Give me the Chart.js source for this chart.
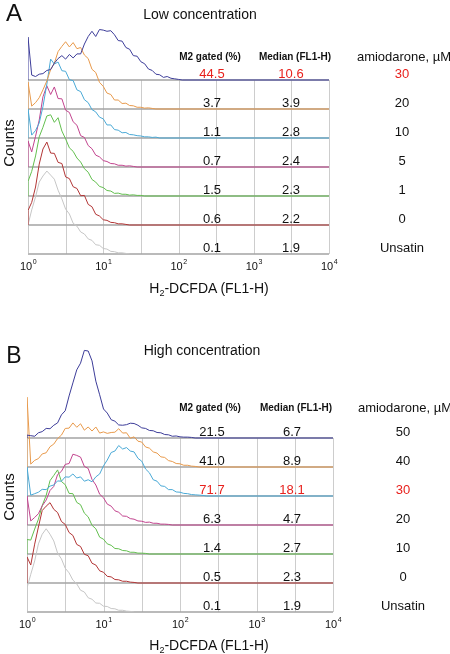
<!DOCTYPE html>
<html>
<head>
<meta charset="utf-8">
<script src="https://cdn.jsdelivr.net/npm/chart.js@4.4.1/dist/chart.umd.min.js"></script>
<style>
  body { margin: 0; background: #fff; font-family: "Liberation Sans", Arial, sans-serif; }
  #page { position: relative; width: 450px; height: 654px; overflow: hidden; background: #fff; }
  canvas { position: absolute; left: 0; }
  .lbl { position: absolute; transform: translate(-50%, -50%); white-space: nowrap; color: #111; line-height: 1; }
  .rot { transform: translate(-50%, -50%) rotate(-90deg); }
  sub { font-size: 9px; line-height: 0; vertical-align: -3px; }
</style>
</head>
<body>
<div id="page">
  <canvas id="chartA" width="450" height="300" style="top:0"></canvas>
  <canvas id="chartB" width="450" height="334" style="top:320px"></canvas>

  <div class="lbl" style="left:14px;top:13px;font-size:24px">A</div>
  <div class="lbl" style="left:200px;top:14px;font-size:14px">Low concentration</div>
  <div class="lbl rot" style="left:8px;top:143px;font-size:15px">Counts</div>
  <div class="lbl" style="left:209px;top:288px;font-size:14px">H<sub>2</sub>-DCFDA (FL1-H)</div>

  <div class="lbl" style="left:14px;top:355px;font-size:23px">B</div>
  <div class="lbl" style="left:202px;top:350px;font-size:14px">High concentration</div>
  <div class="lbl rot" style="left:8px;top:497px;font-size:15px">Counts</div>
  <div class="lbl" style="left:209px;top:645px;font-size:14px">H<sub>2</sub>-DCFDA (FL1-H)</div>
</div>

<script>
// FL1-H channel positions (log spaced, 20 per decade)
const channels = [1, 1.12, 1.26, 1.41, 1.58, 1.78, 2, 2.24, 2.51, 2.82,
  3.16, 3.55, 3.98, 4.47, 5.01, 5.62, 6.31, 7.08, 7.94, 8.91,
  10, 11.2, 12.6, 14.1, 15.8, 17.8, 20, 22.4, 25.1, 28.2,
  31.6, 35.5, 39.8, 44.7, 50.1, 56.2, 63.1, 70.8, 79.4, 89.1,
  100, 112, 126, 141, 158, 178, 200, 224, 251];

const tickValues = [1, 10, 100, 1000, 10000];
const tickPowers = ["0", "1", "2", "3", "4"];
const gridValues = [1, 3.16, 10, 31.6, 100, 316, 1000, 3160, 10000];

// rows from top to bottom
const colors = ["#3d3d99", "#e89a4c", "#4aa9d6", "#c2448e", "#63bf4f", "#b23535", "#c6c6c6"];

// panel A – low concentration (counts, in row heights)
const blueA = [1.48, .17, .12, .2, .22, .33, .36, .58, .74, .84, .72, .88, .76, .9, .9, 1.24, 1.5, 1.68, 1.5, 1.74,
  1.72, 1.68, 1.7, 1.56, 1.36, 1.34, 1.12, 1.06, .84, .82, .63, .56, .38, .33, .2, .18, .09, .12, .06, .04, .02, 0];
const orangeA = [.93, .1, .22, .39, .66, .97, 1.36, 1.58, 1.98, 2.16, 2.32, 2.14, 2.29, 2.08, 2.12, 1.86, 1.74, 1.37, 1.26, .92,
  .78, .55, .5, .31, .31, .19, .2, .12, .11, .06, .06, .03, .04, .02, 0];
const cyanA = [1.0, .1, .26, .52, 1.08, 1.86, 2.72, 2.55, 2.62, 2.32, 2.3, 2.01, 1.98, 1.66, 1.6, 1.32, 1.22, .98, .9, .72,
  .66, .45, .45, .29, .27, .18, .19, .12, .11, .08, .07, .04, .04, .02, .03, 0];
const magentaA = [.9, .52, 1.06, 1.62, 2.42, 2.8, 2.5, 2.76, 2.36, 2.35, 1.96, 1.88, 1.56, 1.44, 1.08, 1.02, .74, .63, .41, .35,
  .22, .19, .12, .11, .06, .06, .03, .04, .02, 0];
const greenA = [.5, .85, 1.38, 2.04, 2.37, 2.76, 2.8, 2.54, 2.7, 2.24, 1.97, 1.66, 1.54, 1.31, 1.17, .94, .82, .57, .48, .33,
  .29, .19, .17, .09, .1, .06, .06, .03, .04, .02, .02, 0];
const redA = [.5, .78, 1.31, 2.1, 2.62, 2.86, 2.48, 2.47, 2.16, 2.12, 1.66, 1.6, 1.32, 1.26, 1.01, 1.02, .71, .63, .37, .31,
  .18, .16, .09, .08, .04, .04, .02, 0];
const grayA = [1.0, 1.52, 1.97, 2.48, 2.69, 2.86, 2.72, 2.58, 2.2, 1.9, 1.55, 1.38, 1.06, .96, .76, .69, .52, .47, .32, .3,
  .19, .17, .09, .08, .04, .04, .02, 0];

const m2A = ["44.5", "3.7", "1.1", "0.7", "1.5", "0.6", "0.1"];
const medianA = ["10.6", "3.9", "2.8", "2.4", "2.3", "2.2", "1.9"];
const doseA = ["30", "20", "10", "5", "1", "0", "Unsatin"];

// panel B – high concentration
const blueB = [.1, .08, .06, .18, .22, .33, .32, .44, .52, .8, .94, 1.45, 1.9, 2.35, 2.58, 3.02, 3.0, 2.66, 1.96, 1.49,
  1.0, .86, .63, .58, .45, .44, .46, .51, .5, .44, .35, .33, .26, .25, .19, .18, .12, .11, .06, .07, .04, .03, .03, .02, 0];
const orangeB = [2.41, .1, .23, .29, .45, .49, .7, .79, .98, 1.1, 1.33, 1.34, 1.52, 1.37, 1.49, 1.27, 1.38, 1.24, 1.38, 1.17,
  1.21, 1.16, 1.19, 1.2, 1.32, 1.17, 1.18, .99, 1.04, .89, .86, .69, .65, .52, .48, .35, .33, .22, .19, .12, .11, .06, .06, .03, .02, 0];
const cyanB = [1.0, .03, .08, .13, .23, .22, .34, .38, .52, .51, .66, .65, .76, .62, .66, .51, .56, .49, .66, .76,
  1.04, 1.24, 1.5, 1.55, 1.74, 1.62, 1.67, 1.55, 1.52, 1.3, 1.2, .93, .8, .56, .51, .35, .33, .22, .22, .14, .13, .09, .08, .05, .04, .03, .02, 0];
const magentaB = [1.0, .14, .26, .39, .66, .86, 1.19, 1.33, 1.74, 1.85, 2.09, 2.12, 2.44, 2.4, 2.34, 2.02, 1.95, 1.57, 1.38, 1.06,
  .94, .72, .65, .49, .44, .31, .3, .22, .2, .14, .13, .09, .1, .06, .06, .03, .03, .02, 0];
const greenB = [.5, .48, .86, 1.2, 1.67, 2.02, 2.53, 2.71, 2.9, 2.5, 2.39, 2.09, 2.08, 1.78, 1.7, 1.41, 1.28, .99, .87, .58,
  .51, .35, .3, .19, .18, .12, .11, .06, .06, .03, .03, .02, 0];
const redB = [.9, .62, 1.34, 1.93, 2.5, 2.65, 2.77, 2.54, 2.43, 2.12, 2.02, 1.74, 1.64, 1.33, 1.26, .99, .94, .68, .62, .42,
  .37, .23, .21, .12, .11, .06, .06, .03, .02, 0];
const grayB = [.83, 1.3, 1.76, 2.35, 2.68, 2.87, 2.68, 2.45, 2.03, 1.83, 1.51, 1.35, 1.1, .97, .75, .69, .49, .44, .31, .3,
  .2, .19, .12, .11, .06, .06, .03, .02, 0];

const m2B = ["21.5", "41.0", "71.7", "6.3", "1.4", "0.5", "0.1"];
const medianB = ["6.7", "8.9", "18.1", "4.7", "2.7", "2.3", "1.9"];
const doseB = ["50", "40", "30", "20", "10", "0", "Unsatin"];

const FONT = '"Liberation Sans", Arial, sans-serif';

// grid boxes, table text and tick labels
const flowGrid = {
  id: "flowGrid",
  beforeDatasetsDraw(chart, args, opts) {
    const { ctx } = chart;
    const x = chart.scales.x, y = chart.scales.y;
    const left = x.getPixelForValue(1), right = x.getPixelForValue(10000);
    const top = y.getPixelForValue(opts.rows - 1), bottom = y.getPixelForValue(0);
    ctx.save();
    ctx.strokeStyle = "#cdcdcd";
    ctx.lineWidth = 1;
    gridValues.forEach((v) => {
      const px = Math.round(x.getPixelForValue(v)) + 0.5;
      ctx.beginPath(); ctx.moveTo(px, top); ctx.lineTo(px, bottom); ctx.stroke();
    });
    ctx.strokeStyle = "#a3a3a3";
    ctx.lineWidth = 1.5;
    for (let r = 0; r < opts.rows; r++) {
      const py = y.getPixelForValue(r);
      ctx.beginPath(); ctx.moveTo(left, py); ctx.lineTo(right, py); ctx.stroke();
    }
    ctx.restore();
  },
  afterDraw(chart, args, opts) {
    const { ctx } = chart;
    const x = chart.scales.x, y = chart.scales.y;
    const topRow = y.getPixelForValue(opts.rows - 1);
    ctx.save();
    ctx.textAlign = "center";
    ctx.textBaseline = "middle";

    // column headers
    ctx.fillStyle = "#111";
    ctx.font = "bold 10px " + FONT;
    ctx.fillText("M2 gated (%)", opts.cols[0] - 2, topRow - opts.headerGap);
    ctx.fillText("Median (FL1-H)", opts.cols[1] + 4, topRow - opts.headerGap);
    ctx.font = "13px " + FONT;
    ctx.fillText("amiodarone, \u00b5M", opts.cols[2] + 2, topRow - opts.headerGap);

    // one line of values per histogram
    opts.m2.forEach((v, i) => {
      const r = opts.rows - 1 - i;
      const py = y.getPixelForValue(r) - 5.5;
      ctx.fillStyle = i === opts.highlight ? "#e8211d" : "#111";
      ctx.font = "13px " + FONT;
      ctx.fillText(v, opts.cols[0], py);
      ctx.fillText(opts.median[i], opts.cols[1], py);
      ctx.fillText(opts.dose[i], opts.cols[2], py);
    });

    // log axis tick labels 10^n
    const ty = y.getPixelForValue(0) + 12.5;
    ctx.fillStyle = "#111";
    tickValues.forEach((v, i) => {
      const px = x.getPixelForValue(v);
      ctx.font = "11px " + FONT;
      const w1 = ctx.measureText("10").width;
      ctx.font = "7px " + FONT;
      const w2 = ctx.measureText(tickPowers[i]).width;
      const start = px - (w1 + w2) / 2;
      ctx.textAlign = "left";
      ctx.font = "11px " + FONT;
      ctx.fillText("10", start, ty);
      ctx.font = "7px " + FONT;
      ctx.fillText(tickPowers[i], start + w1 + 0.5, ty - 4);
    });
    ctx.restore();
  },
};

function buildDatasets(series) {
  const n = series.length;
  return series.map((vals, i) => {
    const row = n - 1 - i;
    const pts = [{ x: 1, y: row }];
    vals.forEach((v, k) => pts.push({ x: channels[k], y: row + v }));
    if (i < n - 1) pts.push({ x: 10000, y: row });
    return {
      data: pts,
      borderColor: colors[i],
      borderWidth: 1,
      pointRadius: 0,
      tension: 0,
      fill: false,
    };
  });
}

function makeChart(id, series, yMax, padding, table) {
  return new Chart(document.getElementById(id), {
    type: "line",
    data: { datasets: buildDatasets(series) },
    options: {
      responsive: false,
      animation: false,
      events: [],
      layout: { padding: padding },
      scales: {
        x: { type: "logarithmic", min: 1, max: 10000, display: false },
        y: { type: "linear", min: 0, max: yMax, display: false },
      },
      plugins: {
        legend: { display: false },
        tooltip: { enabled: false },
        flowGrid: table,
      },
    },
    plugins: [flowGrid],
  });
}

makeChart("chartA", [blueA, orangeA, cyanA, magentaA, greenA, redA, grayA], 8,
  { left: 28, right: 121, top: 22, bottom: 46 },
  { rows: 7, m2: m2A, median: medianA, dose: doseA, highlight: 0, cols: [212, 291, 402], headerGap: 23 });

makeChart("chartB", [blueB, orangeB, cyanB, magentaB, greenB, redB, grayB], 9.5,
  { left: 27, right: 117, top: 16.5, bottom: 42 },
  { rows: 7, m2: m2B, median: medianB, dose: doseB, highlight: 2, cols: [212, 292, 403], headerGap: 30 });
</script>
</body>
</html>
